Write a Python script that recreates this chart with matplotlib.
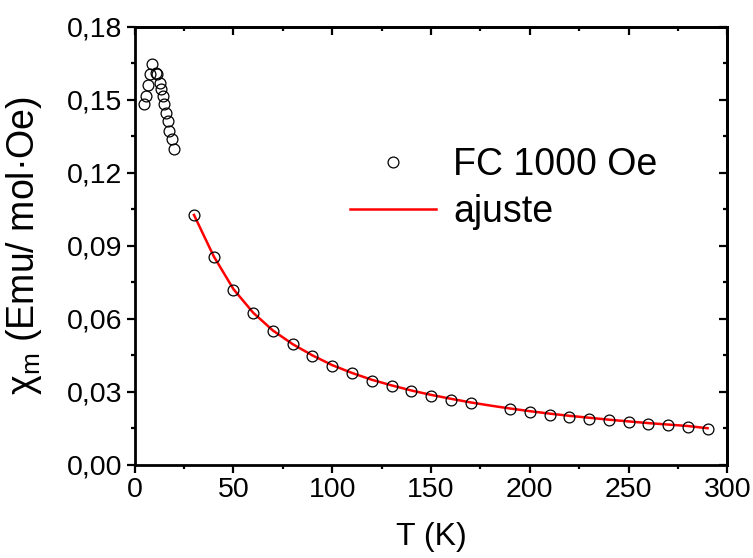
import matplotlib
matplotlib.use("Agg")
import matplotlib.pyplot as plt
from matplotlib.ticker import MultipleLocator, FuncFormatter

plt.rcParams['font.family'] = ['Liberation Sans', 'DejaVu Sans']
plt.rcParams['mathtext.fontset'] = 'custom'
plt.rcParams['mathtext.rm'] = 'Liberation Sans'
plt.rcParams['mathtext.it'] = 'Liberation Sans'

# FC 1000 Oe measurement (T in K, chi_m in emu/mol.Oe)
T_low = [4.9, 5.7, 6.9, 7.7, 8.9, 10.6, 11.1, 12.8, 13.3, 14.2, 15.0, 15.8,
         16.7, 17.5, 18.7, 19.9]
chi_low = [0.1484, 0.1517, 0.1562, 0.1606, 0.1648, 0.1610, 0.1606, 0.1569,
           0.1544, 0.1514, 0.1482, 0.1445, 0.1411, 0.1373, 0.1339, 0.1299]

T_high = [30, 40, 50, 60, 70, 80, 90, 100, 110, 120, 130, 140, 150, 160, 170,
          190, 200, 210, 220, 230, 240, 250, 260, 270, 280, 290]
chi_high = [0.1027, 0.0855, 0.0718, 0.0623, 0.0551, 0.0496, 0.0447, 0.0407,
            0.0377, 0.0346, 0.0325, 0.0303, 0.0282, 0.0268, 0.0254, 0.0229,
            0.0219, 0.0207, 0.0196, 0.0189, 0.0184, 0.0177, 0.0168, 0.0163,
            0.0156, 0.0149]

# fit curve
T_fit = [30, 40, 50, 60, 70, 80, 90, 100, 110, 120, 130, 140, 150, 160, 170,
         180, 190, 200, 210, 220, 230, 240, 250, 260, 270, 280, 290]
chi_fit = [0.1027, 0.0857, 0.0722, 0.0625, 0.0552, 0.0496, 0.0450, 0.0410,
           0.0378, 0.0350, 0.0327, 0.0306, 0.0288, 0.0272, 0.0257, 0.0244,
           0.0232, 0.0221, 0.0211, 0.0202, 0.0194, 0.0186, 0.0179, 0.0172,
           0.0166, 0.0160, 0.0151]

T_data = T_low + T_high
chi_data = chi_low + chi_high

fig = plt.figure(figsize=(7.53, 5.58), dpi=100)
ax = fig.add_axes([0.1789, 0.1667, 0.7870, 0.7855])

ax.plot(T_data, chi_data, 'o', mfc='none', mec='black', ms=7.8, mew=0.9,
        label='FC 1000 Oe', zorder=3)
ax.plot(T_fit, chi_fit, '-', color='red', lw=1.8, label='ajuste', zorder=2)

ax.set_xlim(0, 300)
ax.set_ylim(0, 0.18)
ax.xaxis.set_major_locator(MultipleLocator(50))
ax.xaxis.set_minor_locator(MultipleLocator(25))
ax.yaxis.set_major_locator(MultipleLocator(0.03))
ax.yaxis.set_minor_locator(MultipleLocator(0.015))
ax.yaxis.set_major_formatter(FuncFormatter(lambda v, p: f'{v:.2f}'.replace('.', ',')))

for s in ax.spines.values():
    s.set_linewidth(2)
ax.tick_params(which='major', direction='out', length=6, width=1.6, labelsize=20.5, pad=3)
ax.tick_params(which='minor', direction='out', length=3, width=1.6)

# inward ticks on top and right
secx = ax.secondary_xaxis('top')
secx.xaxis.set_major_locator(MultipleLocator(50))
secx.xaxis.set_minor_locator(MultipleLocator(25))
secx.tick_params(which='major', direction='in', length=6, width=1.6, labeltop=False)
secx.tick_params(which='minor', direction='in', length=3, width=1.6)
secy = ax.secondary_yaxis('right')
secy.yaxis.set_major_locator(MultipleLocator(0.03))
secy.yaxis.set_minor_locator(MultipleLocator(0.015))
secy.tick_params(which='major', direction='in', length=6, width=1.6, labelright=False)
secy.tick_params(which='minor', direction='in', length=3, width=1.6)
for a in (secx, secy):
    for s in a.spines.values():
        s.set_linewidth(2)

ax.set_xlabel('T (K)', fontsize=23, labelpad=13)
ax.set_ylabel(r'χ$_{\rm m}$ (Emu/ mol·Oe)', fontsize=27, labelpad=16)

ax.legend(loc='upper left', bbox_to_anchor=(350 / 753, 1 - 147 / 558),
          bbox_transform=fig.transFigure, frameon=False, fontsize=27,
          handlelength=2.3, handletextpad=0.45, labelspacing=0.3,
          borderpad=0, borderaxespad=0)

fig.savefig('out.png', dpi=100)
